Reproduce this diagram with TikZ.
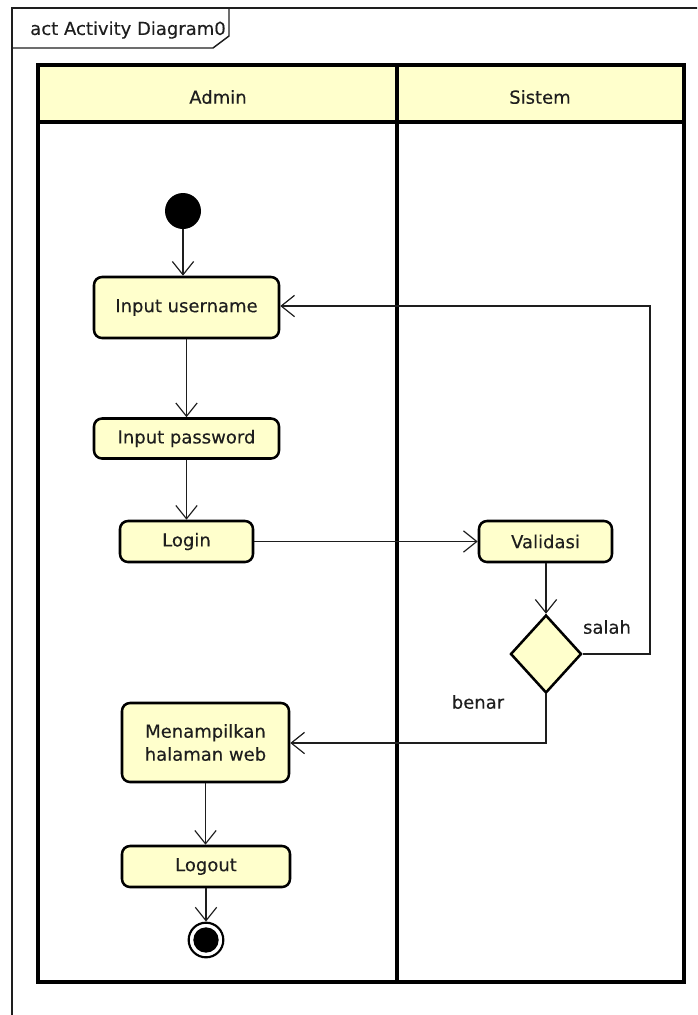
\documentclass[tikz,border=0pt]{standalone}
\usepackage{fontspec}
\setmainfont{DejaVu Sans}[FakeBold=0.25]
\usetikzlibrary{arrows.meta,shapes.geometric}
\definecolor{actfill}{RGB}{255,255,204}
\definecolor{inkgray}{RGB}{30,30,30}
\begin{document}
\begin{tikzpicture}[x=0.75pt,y=-0.75pt,
  font=\fontsize{13.5}{17.25}\selectfont,
  action/.style={draw=black,fill=actfill,line width=1.9pt,rounded corners=6pt,
    inner sep=0pt,align=center,text=inkgray},
  decision/.style={diamond,draw=black,fill=actfill,line width=1.9pt,inner sep=0pt,
    minimum width=53.25pt,minimum height=58.5pt},
  flow/.style={draw=inkgray,line width=0.9pt,
    -{Straight Barb[length=10pt,width=16pt,line width=0.9pt]}},
  guard/.style={text=inkgray},
  lane/.style={draw=black,line width=2.5pt}]
\useasboundingbox (0,0) rectangle (697,1015);

% diagram frame with its name tab
\begin{scope}
  \clip (0,0) rectangle (697,1015);
  \draw[line width=1.3pt,draw=inkgray] (12,1040) -- (12,8) -- (720,8);
  \draw[line width=1.1pt,draw=inkgray] (12,48) -- (213,48) -- (229,36) -- (229,8);
\end{scope}
\node[anchor=west,inner sep=0pt,text=inkgray] (title) at (30,30) {act Activity Diagram0};

% swimlanes
\fill[actfill] (38,65) rectangle (684,122);
\draw[lane] (38,65) rectangle (684,982);
\draw[lane] (38,122) -- (684,122);
\draw[lane] (397,65) -- (397,982);
\node[text=inkgray] (laneA) at (218,97) {Admin};
\node[text=inkgray] (laneS) at (540,97) {Sistem};

% nodes
\node[circle,fill=black,minimum size=27pt,inner sep=0pt] (start) at (183,211) {};
\node[action,minimum width=138.75pt,minimum height=45.75pt] (user) at (186.5,307.5) {Input username};
\node[action,minimum width=138.75pt,minimum height=30pt] (pass) at (186.5,438.5) {Input password};
\node[action,minimum width=99.75pt,minimum height=30.75pt] (login) at (186.5,541.5) {Login};
\node[action,minimum width=99.75pt,minimum height=30.75pt] (valid) at (545.5,541.5) {Validasi};
\node[decision] (check) at (546,654) {};
\node[action,minimum width=125.25pt,minimum height=59.25pt] (web) at (205.5,742.5) {Menampilkan\\halaman web};
\node[action,minimum width=126pt,minimum height=30.75pt] (logout) at (206,866.5) {Logout};
\node[circle,draw=black,line width=1.6pt,fill=white,minimum size=26pt,inner sep=0pt] (end) at (206,940) {};
\node[circle,fill=black,minimum size=19pt,inner sep=0pt] (endcore) at (206,940) {};

% bend points of the guarded flows
\coordinate (rUp) at (650,654);
\coordinate (rTop) at (650,306);
\coordinate (bDown) at (546,743);

% connectors
\draw[flow] (start) -- (start|-user.north);
\draw[flow] (user) -- (pass);
\draw[flow] (pass) -- (pass|-login.north);
\draw[flow] (login) -- (valid);
\draw[flow] (valid.south-|check) -- (check.north);
\draw[flow] (check.east) -- (rUp) -- (rTop) -- (rTop-|user.east);
\draw[flow] (check.south) -- (bDown) -- (bDown-|web.east);
\draw[flow] (web) -- (web|-logout.north);
\draw[flow] (logout) -- (end);

% guard labels
\node[guard] (salah) at (607,627) {salah};
\node[guard] (benar) at (478,702) {benar};
\end{tikzpicture}
\end{document}
